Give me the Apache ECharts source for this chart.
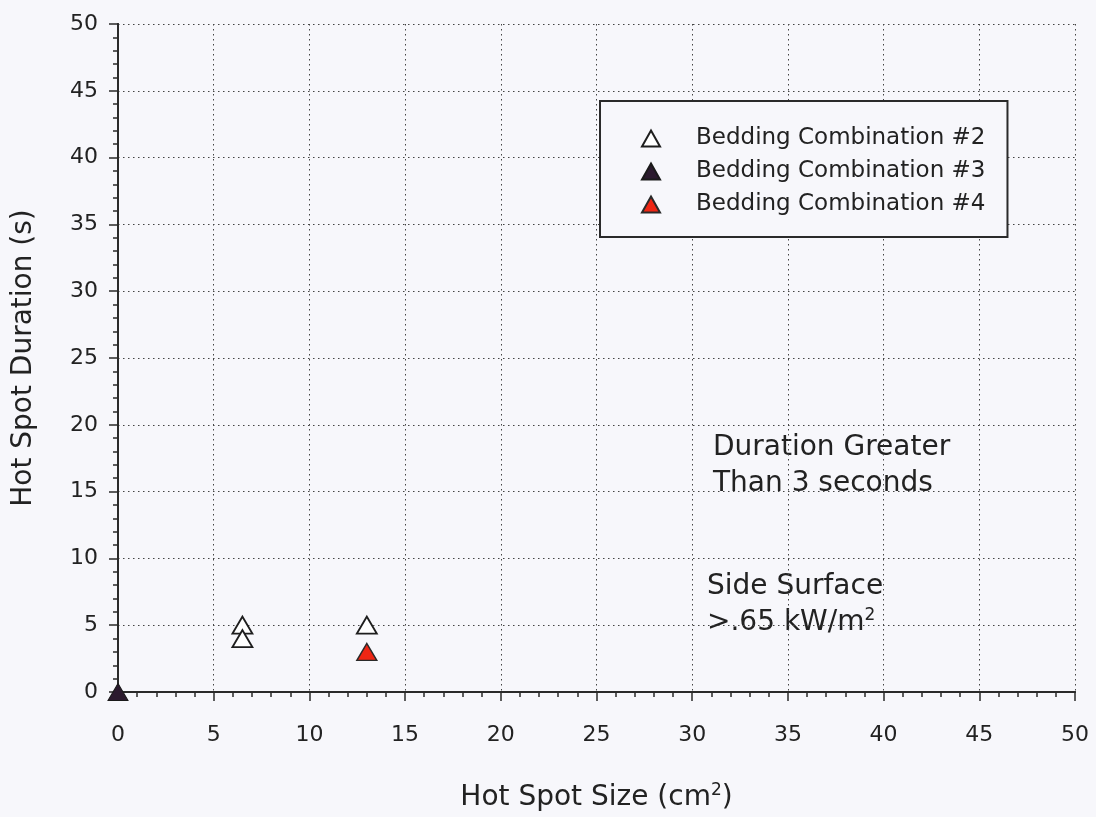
<!DOCTYPE html>
<html>
<head>
<meta charset="utf-8">
<script src="https://cdn.jsdelivr.net/npm/echarts@6/dist/echarts.min.js"></script>
<style>
  html, body { margin: 0; padding: 0; background: #f7f7fb; }
  #chart { width: 1096px; height: 817px; }
</style>
</head>
<body>
<div id="chart"></div>
<script>
// Hot spot measurements: [size (cm^2), duration (s)]
const combo2 = [[6.5, 5], [6.5, 4], [13, 5]];
const combo3 = [[0, 0]];
const combo4 = [[13, 3]];

const seriesNames = ['Bedding Combination #2', 'Bedding Combination #3', 'Bedding Combination #4'];
const axisMin = 0, axisMax = 50, axisStep = 5;

const FONT = 'DejaVu Sans';
const INK = '#222';
const BG = '#f7f7fb';

const chart = echarts.init(document.getElementById('chart'));

const gridLine = { show: true, lineStyle: { color: '#444', width: 1, type: [1.5, 3.5] } };
const axisLine = { show: true, lineStyle: { color: '#2a2a2a', width: 2 } };
const majorTick = (inside) => ({ show: true, inside: inside, length: 9, lineStyle: { color: '#2a2a2a', width: 1.5 } });
const minorTick = { show: true, splitNumber: 5, length: 5, lineStyle: { color: '#2a2a2a', width: 1.5 } };

chart.setOption({
  backgroundColor: BG,
  animation: false,
  grid: { left: 118, right: 21, top: 24, bottom: 120, containLabel: false },
  xAxis: [
    {
      type: 'value', min: axisMin, max: axisMax, interval: axisStep,
      name: 'Hot Spot Size (cm{sup|2})', nameLocation: 'middle', nameGap: 90,
      nameTextStyle: {
        fontFamily: FONT, fontSize: 28, color: INK,
        rich: { sup: { fontFamily: FONT, fontSize: 17, color: INK, padding: [0, 0, 15, 0] } }
      },
      axisLine: axisLine,
      axisTick: majorTick(false),
      minorTick: minorTick,
      axisLabel: { fontFamily: FONT, fontSize: 22, color: INK, margin: 32 },
      splitLine: gridLine
    },
    {
      type: 'value', position: 'top', min: axisMin, max: axisMax, interval: axisStep,
      axisLine: axisLine,
      axisTick: majorTick(true),
      minorTick: minorTick,
      axisLabel: { show: false },
      splitLine: { show: false }
    }
  ],
  yAxis: [
    {
      type: 'value', min: axisMin, max: axisMax, interval: axisStep,
      name: 'Hot Spot Duration (s)', nameLocation: 'middle', nameGap: 80,
      nameTextStyle: { fontFamily: FONT, fontSize: 28, color: INK },
      axisLine: axisLine,
      axisTick: majorTick(false),
      minorTick: minorTick,
      axisLabel: { fontFamily: FONT, fontSize: 22, color: INK, margin: 20 },
      splitLine: gridLine
    },
    {
      type: 'value', position: 'right', min: axisMin, max: axisMax, interval: axisStep,
      axisLine: axisLine,
      axisTick: majorTick(true),
      minorTick: minorTick,
      axisLabel: { show: false },
      splitLine: { show: false }
    }
  ],
  legend: {
    orient: 'vertical',
    left: 600, top: 101,
    padding: [26, 22, 21, 41],
    itemGap: 10,
    itemWidth: 18, itemHeight: 16,
    backgroundColor: BG,
    borderColor: '#2a2a2a', borderWidth: 2,
    textStyle: { fontFamily: FONT, fontSize: 23, color: INK, padding: [0, 0, 0, 31] },
    data: seriesNames.map(n => ({ name: n, icon: 'triangle' }))
  },
  series: [
    {
      name: seriesNames[0], type: 'scatter', data: combo2,
      symbol: 'triangle', symbolSize: [20, 17],
      itemStyle: { color: '#ffffff', borderColor: '#1e1e1e', borderWidth: 1.8, opacity: 1 },
      z: 3
    },
    {
      name: seriesNames[1], type: 'scatter', data: combo3,
      symbol: 'triangle', symbolSize: [20, 17],
      itemStyle: { color: '#2b1a2e', borderColor: '#1a1a1a', borderWidth: 1, opacity: 1 },
      z: 3
    },
    {
      name: seriesNames[2], type: 'scatter', data: combo4,
      symbol: 'triangle', symbolSize: [20, 17],
      itemStyle: { color: '#ee2614', borderColor: '#2a2a2a', borderWidth: 1.4, opacity: 1 },
      z: 3
    }
  ],
  graphic: [
    {
      type: 'text', left: 713, top: 430,
      style: {
        text: 'Duration Greater\nThan 3 seconds',
        fontFamily: FONT, fontSize: 28, lineHeight: 36, fill: INK
      }
    },
    {
      type: 'text', left: 707, top: 569,
      style: {
        text: 'Side Surface\n>.65 kW/m{sup|2}',
        fontFamily: FONT, fontSize: 28, lineHeight: 36, fill: INK,
        rich: { sup: { fontFamily: FONT, fontSize: 17, fill: INK, padding: [0, 0, 15, 0] } }
      }
    }
  ]
});
</script>
</body>
</html>
